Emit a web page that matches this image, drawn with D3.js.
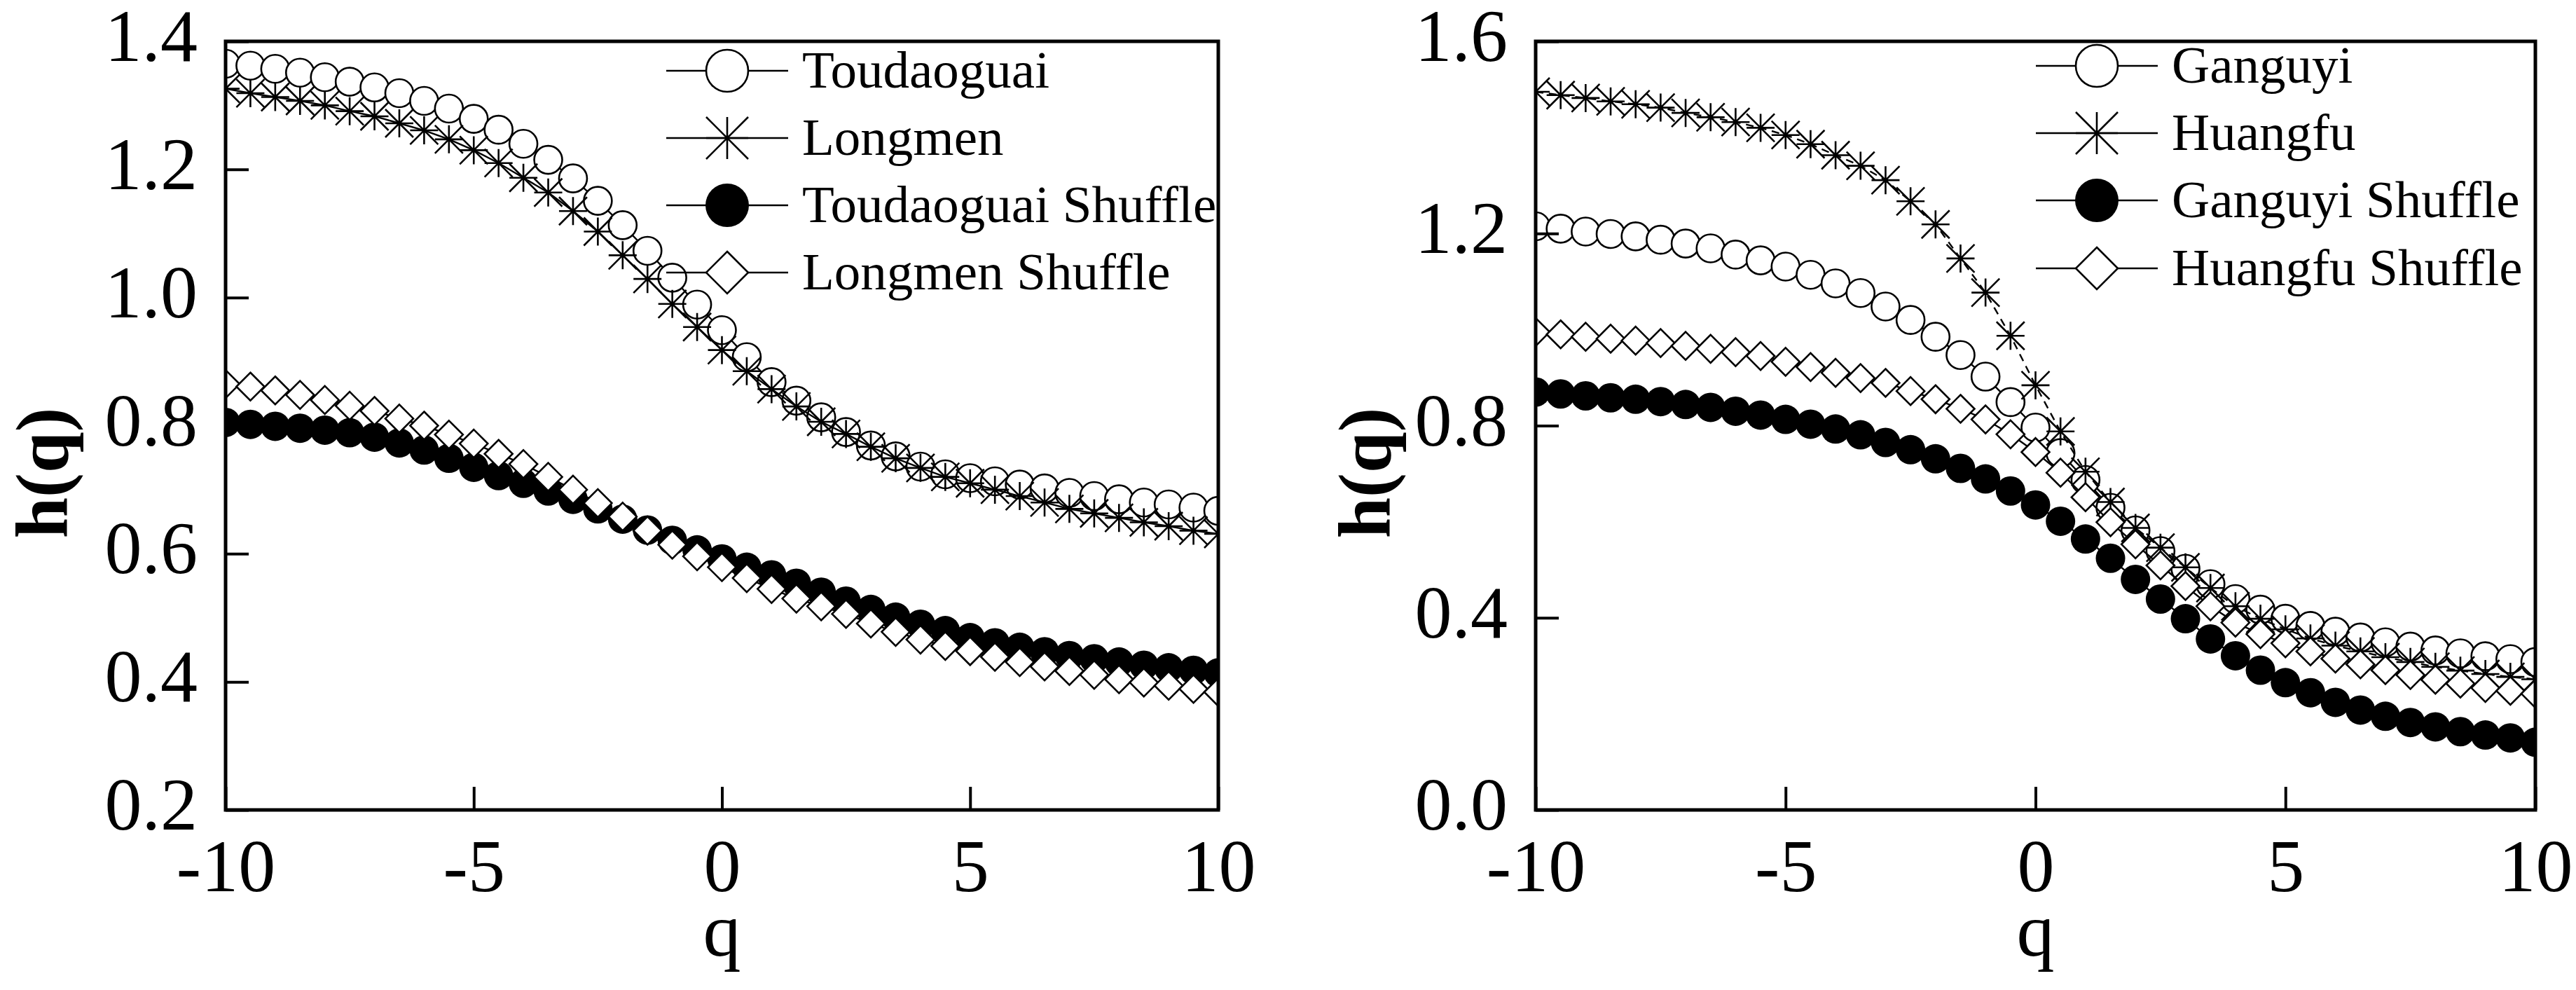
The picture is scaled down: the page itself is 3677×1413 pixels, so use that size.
<!DOCTYPE html>
<html>
<head>
<meta charset="utf-8">
<script src="https://cdn.jsdelivr.net/npm/d3@7"></script>
<style>
  html, body { margin: 0; padding: 0; background: #fff; }
  svg { display: block; }
</style>
</head>
<body>
<svg id="chart"></svg>
<script>
const W = 3677, H = 1413;

// q values shared by every series
const qValues = [-10, -9.5, -9, -8.5, -8, -7.5, -7, -6.5, -6, -5.5, -5, -4.5, -4, -3.5, -3, -2.5, -2, -1.5, -1, -0.5,
  0, 0.5, 1, 1.5, 2, 2.5, 3, 3.5, 4, 4.5, 5, 5.5, 6, 6.5, 7, 7.5, 8, 8.5, 9, 9.5, 10];
const xTicks = [-10, -5, 0, 5, 10];

// left panel
const leftNames = ["Toudaoguai", "Longmen", "Toudaoguai Shuffle", "Longmen Shuffle"];
const toudaoguai = [1.365, 1.362, 1.357, 1.351, 1.344, 1.337, 1.328, 1.319, 1.307, 1.295, 1.279, 1.262, 1.240, 1.215, 1.186, 1.151,
  1.113, 1.073, 1.031, 0.989, 0.949, 0.907, 0.868, 0.839, 0.813, 0.790, 0.769, 0.752, 0.736, 0.724, 0.718, 0.713, 0.708, 0.702,
  0.695, 0.690, 0.685, 0.680, 0.677, 0.672, 0.667];
const longmen = [1.326, 1.319, 1.313, 1.307, 1.300, 1.291, 1.283, 1.272, 1.261, 1.247, 1.230, 1.210, 1.187, 1.164, 1.135, 1.103,
  1.066, 1.029, 0.990, 0.954, 0.918, 0.885, 0.857, 0.830, 0.806, 0.787, 0.767, 0.749, 0.734, 0.720, 0.710, 0.700, 0.690, 0.680,
  0.670, 0.663, 0.656, 0.649, 0.643, 0.636, 0.631];
const toudaoguaiShuffle = [0.805, 0.802, 0.799, 0.796, 0.793, 0.789, 0.782, 0.773, 0.762, 0.749, 0.735, 0.722, 0.710, 0.698, 0.685,
  0.670, 0.654, 0.637, 0.621, 0.606, 0.592, 0.579, 0.567, 0.554, 0.540, 0.526, 0.513, 0.501, 0.490, 0.480, 0.469, 0.461, 0.454,
  0.447, 0.441, 0.436, 0.431, 0.426, 0.422, 0.418, 0.414];
const longmenShuffle = [0.865, 0.861, 0.855, 0.848, 0.840, 0.831, 0.823, 0.811, 0.800, 0.786, 0.772, 0.756, 0.740, 0.720, 0.700,
  0.679, 0.658, 0.636, 0.614, 0.596, 0.579, 0.562, 0.545, 0.530, 0.518, 0.506, 0.491, 0.478, 0.466, 0.456, 0.448, 0.439, 0.431,
  0.424, 0.417, 0.411, 0.404, 0.399, 0.394, 0.389, 0.384];
const leftYTicks = [0.2, 0.4, 0.6, 0.8, 1.0, 1.2, 1.4];

// right panel
const rightNames = ["Ganguyi", "Huangfu", "Ganguyi Shuffle", "Huangfu Shuffle"];
const ganguyi = [1.215, 1.210, 1.204, 1.199, 1.194, 1.187, 1.179, 1.169, 1.156, 1.144, 1.131, 1.114, 1.096, 1.076, 1.048, 1.020,
  0.985, 0.947, 0.902, 0.849, 0.796, 0.743, 0.687, 0.629, 0.582, 0.539, 0.502, 0.470, 0.439, 0.417, 0.398, 0.383, 0.371, 0.359,
  0.349, 0.340, 0.332, 0.326, 0.320, 0.314, 0.308];
const huangfu = [1.495, 1.488, 1.482, 1.475, 1.469, 1.462, 1.451, 1.442, 1.432, 1.420, 1.405, 1.386, 1.363, 1.341, 1.311, 1.267,
  1.219, 1.148, 1.077, 0.987, 0.884, 0.788, 0.704, 0.641, 0.587, 0.546, 0.505, 0.462, 0.424, 0.398, 0.376, 0.357, 0.342, 0.330,
  0.318, 0.308, 0.298, 0.290, 0.283, 0.277, 0.272];
const ganguyiShuffle = [0.870, 0.866, 0.862, 0.858, 0.855, 0.850, 0.844, 0.838, 0.830, 0.822, 0.813, 0.803, 0.793, 0.781, 0.765,
  0.750, 0.731, 0.711, 0.689, 0.664, 0.635, 0.601, 0.564, 0.524, 0.480, 0.439, 0.398, 0.356, 0.321, 0.291, 0.265, 0.244, 0.224,
  0.208, 0.195, 0.182, 0.173, 0.163, 0.156, 0.150, 0.141];
const huangfuShuffle = [0.995, 0.990, 0.985, 0.981, 0.977, 0.972, 0.966, 0.960, 0.953, 0.945, 0.933, 0.922, 0.910, 0.899, 0.889,
  0.872, 0.855, 0.835, 0.813, 0.782, 0.745, 0.702, 0.651, 0.599, 0.553, 0.509, 0.466, 0.424, 0.390, 0.366, 0.347, 0.330, 0.315,
  0.303, 0.291, 0.281, 0.271, 0.263, 0.254, 0.248, 0.242];
const rightYTicks = [0.0, 0.4, 0.8, 1.2, 1.6];

const symbols = ["circle", "star", "dot", "diamond"];
const font = "'Liberation Serif', 'Times New Roman', serif";

const svg = d3.select("#chart").attr("width", W).attr("height", H);
svg.append("rect").attr("width", W).attr("height", H).attr("fill", "#fff");

function drawSymbol(g, type, x, y, s) {
  if (type === "circle") {
    g.append("circle").attr("cx", x).attr("cy", y).attr("r", s)
      .attr("fill", "#fff").attr("stroke", "#000").attr("stroke-width", 2.6);
  } else if (type === "dot") {
    g.append("circle").attr("cx", x).attr("cy", y).attr("r", s + 1)
      .attr("fill", "#000");
  } else if (type === "diamond") {
    g.append("path")
      .attr("d", `M${x},${y - s}L${x + s},${y}L${x},${y + s}L${x - s},${y}Z`)
      .attr("fill", "#fff").attr("stroke", "#000").attr("stroke-width", 2.6);
  } else {
    g.append("path")
      .attr("d", `M${x - s},${y}H${x + s}M${x},${y - s}V${y + s}M${x - s},${y - s}L${x + s},${y + s}M${x - s},${y + s}L${x + s},${y - s}`)
      .attr("fill", "none").attr("stroke", "#000").attr("stroke-width", 2.6);
  }
}

function drawPanel(cfg) {
  const x = d3.scaleLinear().domain([-10, 10]).range([cfg.left, cfg.right]);
  const y = d3.scaleLinear().domain(cfg.yDomain).range([cfg.bottom, cfg.top]);
  const panel = svg.append("g");

  panel.append("clipPath").attr("id", cfg.id + "-clip")
    .append("rect")
    .attr("x", cfg.left).attr("y", cfg.top)
    .attr("width", cfg.right - cfg.left).attr("height", cfg.bottom - cfg.top);

  const plot = panel.append("g").attr("clip-path", `url(#${cfg.id}-clip)`);
  const line = d3.line().x((d) => x(d[0])).y((d) => y(d[1]));

  cfg.series.forEach((vals, i) => {
    const pts = qValues.map((q, j) => [q, vals[j]]);
    plot.append("path")
      .attr("d", line(pts))
      .attr("fill", "none")
      .attr("stroke", "#000")
      .attr("stroke-width", 2.4)
      .attr("stroke-dasharray", cfg.dashed === i ? "11,8" : null);
    const marks = plot.append("g");
    pts.forEach((p) => drawSymbol(marks, symbols[i], x(p[0]), y(p[1]), 20));
  });

  // axes, ticks inside the frame
  const yAxis = panel.append("g")
    .attr("transform", `translate(${cfg.left},0)`)
    .call(d3.axisLeft(y).tickValues(cfg.yTicks).tickFormat(d3.format(".1f"))
      .tickSizeInner(-33).tickSizeOuter(0).tickPadding(40));
  const xAxis = panel.append("g")
    .attr("transform", `translate(0,${cfg.bottom})`)
    .call(d3.axisBottom(x).tickValues(xTicks).tickFormat(d3.format("d"))
      .tickSizeInner(-33).tickSizeOuter(0).tickPadding(41));

  [yAxis, xAxis].forEach((a) => {
    a.select(".domain").remove();
    a.selectAll(".tick line").attr("stroke", "#000").attr("stroke-width", 4);
    a.selectAll(".tick text")
      .attr("font-family", font).attr("font-size", 106).attr("fill", "#000");
  });
  yAxis.selectAll(".tick text").attr("dy", "0.26em");
  xAxis.selectAll(".tick text").text((d) => (d < 0 ? "-" + Math.abs(d) : d));

  panel.append("rect")
    .attr("x", cfg.left).attr("y", cfg.top)
    .attr("width", cfg.right - cfg.left).attr("height", cfg.bottom - cfg.top)
    .attr("fill", "none").attr("stroke", "#000").attr("stroke-width", 5);

  // axis titles
  panel.append("text")
    .attr("transform", `translate(${cfg.titleX},675) rotate(-90)`)
    .attr("text-anchor", "middle")
    .attr("font-family", font).attr("font-weight", "bold").attr("font-size", 105)
    .text("h(q)");
  panel.append("text")
    .attr("x", (cfg.left + cfg.right) / 2).attr("y", 1364)
    .attr("text-anchor", "middle")
    .attr("font-family", font).attr("font-size", 108)
    .text("q");

  // legend
  const lg = panel.append("g");
  cfg.names.forEach((name, i) => {
    const cy = cfg.legendY[i];
    lg.append("line")
      .attr("x1", cfg.legendX - 87).attr("x2", cfg.legendX + 87)
      .attr("y1", cy).attr("y2", cy)
      .attr("stroke", "#000").attr("stroke-width", 2.6);
    drawSymbol(lg, symbols[i], cfg.legendX, cy, 30);
    lg.append("text")
      .attr("x", cfg.legendX + 107).attr("y", cy + 24)
      .attr("font-family", font).attr("font-size", 75)
      .text(name);
  });
}

drawPanel({
  id: "left", left: 322, right: 1739, top: 59, bottom: 1156,
  yDomain: [0.2, 1.4], yTicks: leftYTicks,
  series: [toudaoguai, longmen, toudaoguaiShuffle, longmenShuffle],
  names: leftNames, dashed: -1, titleX: 96,
  legendX: 1038, legendY: [101, 197, 293, 389]
});

drawPanel({
  id: "right", left: 2192, right: 3619, top: 59, bottom: 1156,
  yDomain: [0, 1.6], yTicks: rightYTicks,
  series: [ganguyi, huangfu, ganguyiShuffle, huangfuShuffle],
  names: rightNames, dashed: 1, titleX: 1984,
  legendX: 2993, legendY: [94, 190, 286, 383]
});
</script>
</body>
</html>
